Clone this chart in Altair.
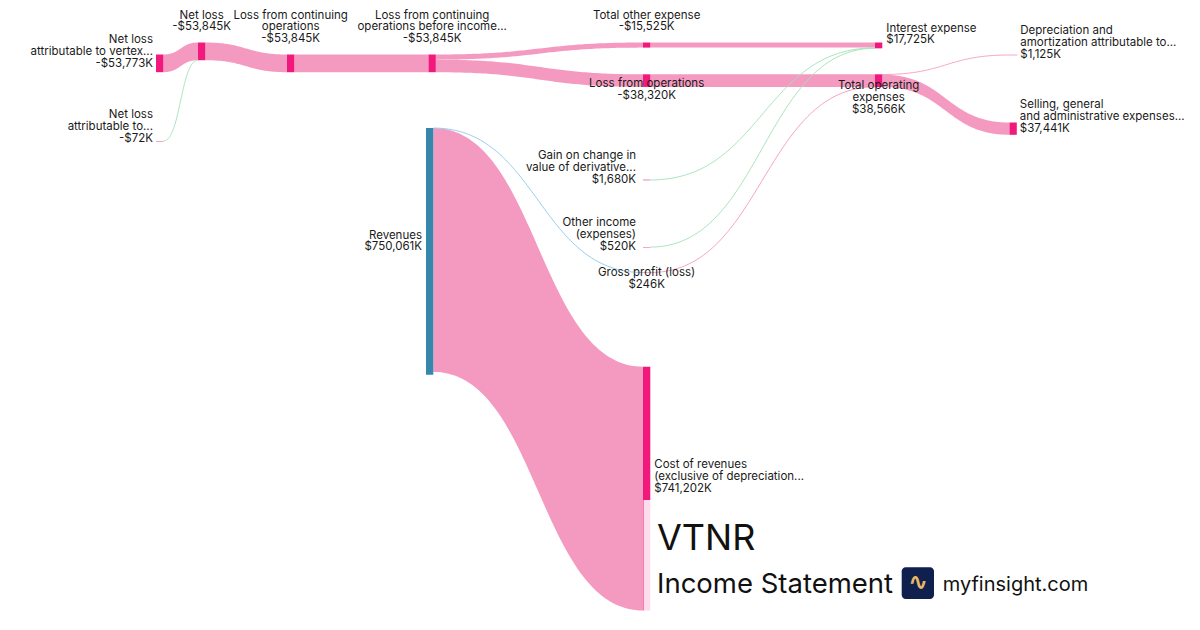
import altair as alt
import pandas as pd
import numpy as np

# ---------------- DATA ----------------
node_ids = ["nl_vertex", "nl_other", "net_loss", "loss_cont", "loss_before", "revenues",
            "total_other", "loss_ops", "gain_deriv", "other_income", "gross_profit", "cost_rev",
            "interest", "total_opex", "dep_amort", "sga"]
node_values = [53773, 72, 53845, 53845, 53845, 750061,
               15525, 38320, 1680, 520, 246, 741202,
               17725, 38566, 1125, 37441]
node_names = [
    ["Net loss", "attributable to vertex..."],
    ["Net loss", "attributable to..."],
    ["Net loss"],
    ["Loss from continuing", "operations"],
    ["Loss from continuing", "operations before income..."],
    ["Revenues"],
    ["Total other expense"],
    ["Loss from operations"],
    ["Gain on change in", "value of derivative..."],
    ["Other income", "(expenses)"],
    ["Gross profit (loss)"],
    ["Cost of revenues", "(exclusive of depreciation..."],
    ["Interest expense"],
    ["Total operating", "expenses"],
    ["Depreciation and", "amortization attributable to..."],
    ["Selling, general", "and administrative expenses..."],
]
node_amounts = ["-$53,773K", "-$72K", "-$53,845K", "-$53,845K", "-$53,845K", "$750,061K",
                "-$15,525K", "-$38,320K", "$1,680K", "$520K", "$246K", "$741,202K",
                "$17,725K", "$38,566K", "$1,125K", "$37,441K"]
node_kind = ["expense"] * 5 + ["revenue"] + ["expense"] * 10

link_sources = ["nl_vertex", "nl_other", "net_loss", "loss_cont", "loss_before", "loss_before",
                "total_other", "gain_deriv", "other_income", "loss_ops", "gross_profit",
                "total_opex", "total_opex", "revenues", "revenues"]
link_targets = ["net_loss", "net_loss", "loss_cont", "loss_before", "total_other", "loss_ops",
                "interest", "interest", "interest", "total_opex", "total_opex",
                "dep_amort", "sga", "gross_profit", "cost_rev"]
link_values = [53773, 72, 53845, 53845, 15525, 38320,
               15525, 1680, 520, 38320, 246,
               1125, 37441, 246, 741202]
link_kind = ["loss", "income", "loss", "loss", "loss", "loss",
             "loss", "income", "income", "loss", "loss",
             "loss", "loss", "revenue", "loss"]

# ---------------- LAYOUT / STYLE ----------------
KY = 1 / 3040.0          # px per $K
NODE_W = 7.3
node_x0 = {"nl_vertex": 156, "nl_other": 156, "net_loss": 198, "loss_cont": 287,
           "loss_before": 428.5, "revenues": 426, "total_other": 643, "loss_ops": 643,
           "gain_deriv": 643, "other_income": 643, "gross_profit": 643, "cost_rev": 643,
           "interest": 875, "total_opex": 875, "dep_amort": 1010, "sga": 1009.5}
node_y0 = {"nl_vertex": 54.5, "nl_other": 141, "net_loss": 42.5, "loss_cont": 54.5,
           "loss_before": 54.5, "revenues": 128, "total_other": 42.5, "loss_ops": 74.3,
           "gain_deriv": 179.7, "other_income": 247, "gross_profit": 272.5, "cost_rev": 366.7,
           "interest": 42.5, "total_opex": 74.3, "dep_amort": 54.8, "sga": 122.5}
# anchor, dx, dy
label_place = {"nl_vertex": ("left", -3, 0.5), "nl_other": ("left", -3, -2),
               "net_loss": ("top", 0, 0), "loss_cont": ("top", 0, 0), "loss_before": ("top", 0, 0),
               "revenues": ("left", -4, -4), "total_other": ("top", 0, 0),
               "loss_ops": ("below", 0, 3.5), "gain_deriv": ("left", -7, 0),
               "other_income": ("left", -7, 0), "gross_profit": ("below", 0, 0.5),
               "cost_rev": ("right", 4, 0), "interest": ("right", 4, -5),
               "total_opex": ("below", 0, 5.5), "dep_amort": ("right", 3, 0),
               "sga": ("right", 3, 0)}
LINE_H = 11.8
TOP_FIRST = 15.5         # first line of top labels (kept inside the drawing)
node_colors = {"expense": "#F2197D", "revenue": "#3787AD"}
link_colors = {"loss": "#F49AC0", "income": "#9FE2B5", "revenue": "#8CCBEA"}

val = dict(zip(node_ids, node_values))
kind = dict(zip(node_ids, node_kind))
x1 = {n: node_x0[n] + NODE_W for n in node_ids}
y1 = {n: node_y0[n] + val[n] * KY for n in node_ids}

# ---- link attachment (d3-sankey style ordering) ----
out_l = {n: [] for n in node_ids}
in_l = {n: [] for n in node_ids}
for i, (s, t) in enumerate(zip(link_sources, link_targets)):
    out_l[s].append(i)
    in_l[t].append(i)
ly0, ly1 = {}, {}
for n in node_ids:
    y = node_y0[n]
    for i in sorted(out_l[n], key=lambda i: node_y0[link_targets[i]]):
        w = link_values[i] * KY
        ly0[i] = y + w / 2
        y += w
    y = node_y0[n]
    for i in sorted(in_l[n], key=lambda i: node_y0[link_sources[i]]):
        w = link_values[i] * KY
        ly1[i] = y + w / 2
        y += w

area_rows, line_rows = [], []
ts = np.linspace(0, 1, 80)
for i, (s, t, v) in enumerate(zip(link_sources, link_targets, link_values)):
    xa, xb = x1[s], node_x0[t]
    xm = (xa + xb) / 2
    ya, yb = ly0[i], ly1[i]
    w = v * KY
    for k, tt in enumerate(ts):
        u = 1 - tt
        xx = u**3 * xa + 3 * u * u * tt * xm + 3 * u * tt * tt * xm + tt**3 * xb
        yy = u**3 * ya + 3 * u * u * tt * ya + 3 * u * tt * tt * yb + tt**3 * yb
        if w >= 1:
            area_rows.append({"link": i, "k": k, "x": xx, "ytop": yy - w / 2, "ybot": yy + w / 2,
                              "color": link_colors[link_kind[i]]})
        else:
            line_rows.append({"link": i, "k": k, "x": xx, "y": yy,
                              "color": link_colors[link_kind[i]]})
areas = pd.DataFrame(area_rows)
lines = pd.DataFrame(line_rows)

nodes = pd.DataFrame({"id": node_ids,
                      "x0": [node_x0[n] for n in node_ids],
                      "x1": [x1[n] for n in node_ids],
                      "y0": [node_y0[n] for n in node_ids],
                      "y1": [max(y1[n], node_y0[n] + 0.4) for n in node_ids],
                      "color": [node_colors[kind[n]] for n in node_ids]})

lab_rows = []
for n, nm, amt in zip(node_ids, node_names, node_amounts):
    txt = nm + [amt]
    anchor, dx, dy = label_place[n]
    cy = (node_y0[n] + y1[n]) / 2
    cx = (node_x0[n] + x1[n]) / 2
    nl = len(txt)
    if anchor == "left":
        xx, align, first = node_x0[n] + dx, "right", cy + dy - (nl - 1) * LINE_H
    elif anchor == "right":
        xx, align, first = x1[n] + dx, "left", cy + dy - (nl - 1) * LINE_H
    elif anchor == "top":
        xx, align, first = cx, "center", TOP_FIRST
    else:
        xx, align, first = cx, "center", cy + dy
    for j, line in enumerate(txt):
        lab_rows.append({"text": line, "x": xx, "y": first + j * LINE_H, "align": align})
labels = pd.DataFrame(lab_rows)

xs = alt.Scale(domain=[8, 1192], nice=False, zero=False)
ys = alt.Scale(domain=[8, 622], nice=False, zero=False, reverse=True)

link_area = alt.Chart(areas).mark_area(opacity=1, interpolate="linear").encode(
    x=alt.X("x:Q", scale=xs, axis=None),
    y=alt.Y("ytop:Q", scale=ys, axis=None, stack=None),
    y2="ybot:Q",
    detail="link:N",
    color=alt.Color("color:N", scale=None),
)
link_line = alt.Chart(lines).mark_line(strokeWidth=1, opacity=0.9).encode(
    x=alt.X("x:Q", scale=xs, axis=None),
    y=alt.Y("y:Q", scale=ys, axis=None),
    detail="link:N",
    order="k:Q",
    color=alt.Color("color:N", scale=None),
)
node_rect = alt.Chart(nodes).mark_rect().encode(
    x=alt.X("x0:Q", scale=xs, axis=None), x2="x1:Q",
    y=alt.Y("y0:Q", scale=ys, axis=None), y2="y1:Q",
    color=alt.Color("color:N", scale=None),
)

text_layers = []
for al in ["left", "center", "right"]:
    sub = labels[labels["align"] == al]
    text_layers.append(
        alt.Chart(sub).mark_text(align=al, baseline="middle", font="Inter", fontSize=11.5,
                                 color="#1a1a1a").encode(
            x=alt.X("x:Q", scale=xs, axis=None),
            y=alt.Y("y:Q", scale=ys, axis=None),
            text="text:N")
    )

one = pd.DataFrame({"a": [0]})
overlay = alt.Chart(one).mark_rect(color="white", opacity=0.85).encode(
    x=alt.value(635.5), x2=alt.value(1184), y=alt.value(492), y2=alt.value(614))
title1 = alt.Chart(one).mark_text(align="left", baseline="alphabetic", font="Inter",
                                  fontSize=36, color="#111111", text="VTNR").encode(
    x=alt.value(649), y=alt.value(542))
title2 = alt.Chart(one).mark_text(align="left", baseline="alphabetic", font="Inter",
                                  fontSize=27.5, color="#111111", text="Income Statement").encode(
    x=alt.value(649), y=alt.value(584.5))
logo_box = alt.Chart(one).mark_rect(color="#0F1F4E", cornerRadius=4).encode(
    x=alt.value(893.7), x2=alt.value(926), y=alt.value(559.3), y2=alt.value(591))
logo_glyph = alt.Chart(one).mark_text(align="center", baseline="middle", font="DejaVu Sans",
                                      fontSize=24, fontWeight="bold", color="#E8B866",
                                      text="\u223f").encode(
    x=alt.value(910), y=alt.value(575))
site = alt.Chart(one).mark_text(align="left", baseline="alphabetic", font="Inter",
                                fontSize=20, color="#111111", text="myfinsight.com").encode(
    x=alt.value(934.7), y=alt.value(582.5))

chart = alt.layer(link_area, link_line, node_rect, overlay, *text_layers,
                  title1, title2, logo_box, logo_glyph, site).properties(
    width=1184, height=614, padding=0, autosize=alt.AutoSizeParams(type="none"),
    background="white",
).configure_view(stroke=None)

chart.save("out.html", embed_options={"renderer": "svg", "actions": False})
